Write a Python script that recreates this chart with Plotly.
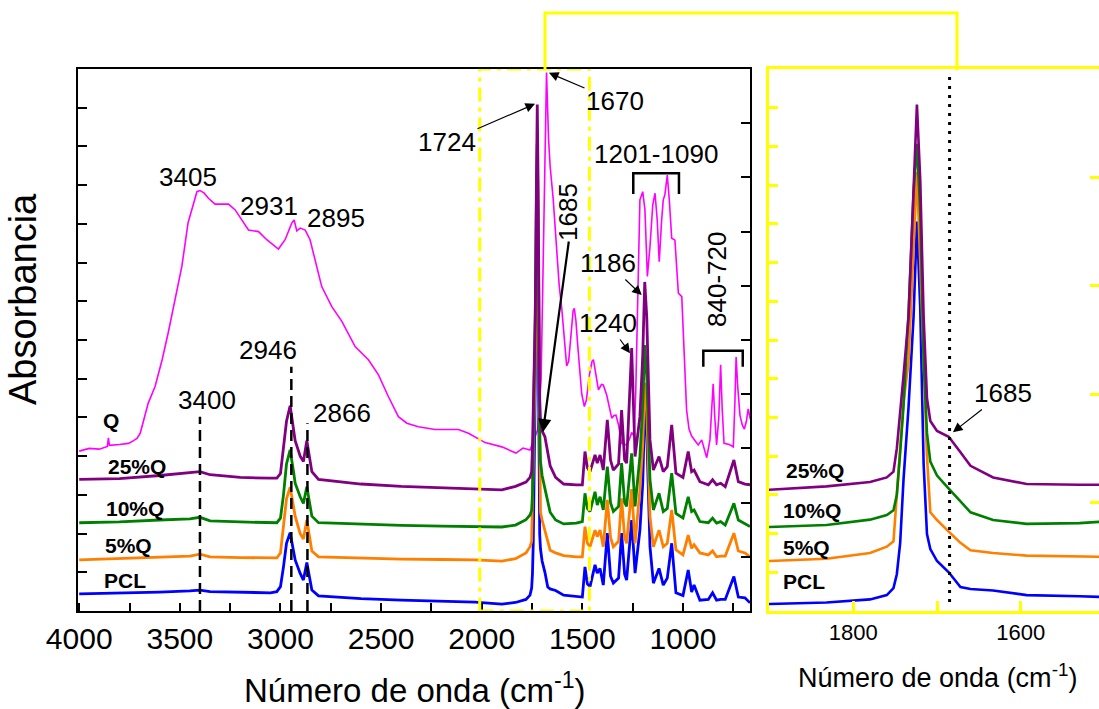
import plotly.graph_objects as go

# ---------------------------------------------------------------- data
# common wavenumber grid (cm-1) for the PCL based spectra
WN = [4000, 3800, 3600, 3450, 3400, 3350, 3200, 3050, 3018, 3000,
      2985, 2970, 2952, 2935, 2927, 2902, 2886, 2869, 2855, 2844,
      2811, 2600, 2400, 2200, 2033, 1900, 1832, 1780, 1760, 1752,
      1748, 1744, 1740, 1734, 1728, 1724, 1720, 1716, 1712, 1708,
      1700, 1686, 1672, 1660, 1633, 1593, 1530, 1500, 1487, 1475,
      1462, 1437, 1426, 1412, 1396, 1376, 1360, 1346, 1320, 1305,
      1290, 1280, 1255, 1238, 1214, 1200, 1190, 1180, 1164, 1147,
      1119, 1098, 1078, 1056, 1035, 1000, 974, 957, 945, 916,
      874, 853, 833, 813, 790, 747, 725, 692, 667]

ABS_PCL = [0.44, 0.46, 0.49, 0.52, 0.54, 0.50, 0.49, 0.47, 0.50, 0.63,
           1.14, 1.75, 2.02, 1.58, 1.32, 0.97, 0.80, 1.25, 0.80, 0.54,
           0.39, 0.32, 0.28, 0.25, 0.23, 0.18, 0.22, 0.30, 0.41, 0.59,
           0.95, 1.76, 3.40, 5.27, 7.60, 10.06, 7.80, 3.80, 1.99, 1.60,
           1.29, 1.00, 0.62, 0.57, 0.53, 0.41, 0.38, 0.36, 1.14, 0.70,
           0.63, 1.19, 0.98, 1.10, 0.67, 2.01, 0.90, 0.72, 0.85, 2.01,
           0.95, 0.80, 2.35, 0.98, 2.09, 3.30, 5.32, 4.60, 1.66, 0.72,
           1.10, 0.67, 0.85, 1.75, 0.47, 0.40, 1.06, 0.49, 0.67, 0.28,
           0.30, 0.47, 0.28, 0.30, 0.30, 0.89, 0.36, 0.34, 0.21]

ABS_5Q = [1.32, 1.35, 1.38, 1.42, 1.47, 1.40, 1.38, 1.37, 1.37, 1.50,
          2.20, 2.90, 3.20, 2.75, 2.45, 2.00, 1.86, 2.35, 1.90, 1.55,
          1.40, 1.36, 1.34, 1.33, 1.32, 1.29, 1.35, 1.50, 1.66, 1.80,
          2.93, 4.30, 5.40, 6.43, 9.20, 11.34, 9.00, 6.43, 4.00, 2.55,
          2.35, 2.05, 1.76, 1.57, 1.50, 1.43, 1.40, 1.40, 2.18, 1.75,
          1.66, 2.09, 1.92, 2.09, 1.66, 2.87, 1.90, 1.66, 1.80, 2.91,
          1.90, 1.75, 3.15, 1.75, 3.13, 4.30, 5.89, 5.20, 2.44, 1.66,
          2.09, 1.66, 1.75, 2.61, 1.58, 1.45, 1.96, 1.62, 1.71, 1.50,
          1.45, 1.55, 1.40, 1.42, 1.42, 2.01, 1.55, 1.50, 1.40]

ABS_10Q = [2.28, 2.30, 2.35, 2.38, 2.42, 2.33, 2.30, 2.28, 2.28, 2.40,
           3.00, 3.80, 4.16, 3.60, 3.30, 2.95, 2.78, 3.21, 2.80, 2.45,
           2.28, 2.24, 2.21, 2.19, 2.18, 2.17, 2.22, 2.36, 2.48, 2.60,
           3.00, 4.10, 5.30, 7.70, 10.80, 12.07, 10.30, 6.50, 4.60, 3.86,
           3.50, 3.16, 2.82, 2.55, 2.35, 2.25, 2.27, 2.31, 3.04, 2.65,
           2.57, 3.08, 2.74, 2.95, 2.61, 3.73, 2.80, 2.57, 2.70, 3.82,
           2.80, 2.70, 4.07, 2.70, 3.99, 5.30, 6.87, 6.10, 3.39, 2.61,
           3.04, 2.57, 2.65, 3.56, 2.52, 2.40, 2.95, 2.57, 2.61, 2.31,
           2.28, 2.40, 2.27, 2.31, 2.22, 2.78, 2.35, 2.25, 2.18]

ABS_25Q = [3.40, 3.42, 3.50, 3.57, 3.60, 3.52, 3.45, 3.43, 3.43, 3.55,
           4.20, 4.90, 5.30, 4.70, 4.40, 4.00, 3.86, 4.40, 3.95, 3.60,
           3.40, 3.28, 3.22, 3.18, 3.14, 3.13, 3.22, 3.33, 3.45, 3.60,
           4.20, 5.10, 6.08, 7.60, 11.11, 13.08, 11.11, 7.60, 5.50, 4.91,
           4.65, 4.50, 4.10, 3.75, 3.45, 3.28, 3.26, 3.26, 4.12, 3.70,
           3.60, 4.03, 3.82, 4.03, 3.64, 4.94, 3.90, 3.64, 3.80, 5.19,
           3.90, 3.82, 6.79, 3.99, 5.02, 6.60, 8.50, 7.60, 4.42, 3.64,
           3.99, 3.60, 3.73, 4.81, 3.56, 3.45, 4.12, 3.60, 3.64, 3.34,
           3.26, 3.39, 3.26, 3.30, 3.21, 3.90, 3.34, 3.28, 3.26]

WN_Q = [4000, 3950, 3900, 3860, 3855, 3850, 3800, 3755, 3730, 3713,
        3697, 3689, 3672, 3657, 3623, 3588, 3558, 3523, 3490, 3459,
        3440, 3415, 3400, 3380, 3358, 3325, 3258, 3225, 3159, 3109,
        3068, 3010, 2977, 2944, 2932, 2919, 2902, 2877, 2853, 2828,
        2795, 2745, 2695, 2629, 2563, 2513, 2464, 2414, 2372, 2315,
        2232, 2116, 2066, 1983, 1900, 1830, 1795, 1760, 1740, 1722,
        1705, 1690, 1678, 1668, 1660, 1645, 1635, 1627, 1615, 1602,
        1590, 1578, 1568, 1558, 1546, 1540, 1532, 1522, 1515, 1503,
        1490, 1480, 1465, 1452, 1445, 1435, 1420, 1405, 1396, 1379,
        1365, 1354, 1343, 1333, 1320, 1305, 1280, 1265, 1255, 1243,
        1235, 1227, 1214, 1200, 1189, 1177, 1164, 1150, 1139, 1128,
        1118, 1106, 1098, 1090, 1078, 1068, 1056, 1040, 1023, 1006,
        995, 982, 970, 957, 940, 924, 907, 882, 866, 858,
        850, 842, 833, 822, 813, 805, 796, 770, 750, 742,
        736, 728, 717, 705, 695, 685, 676, 665]

ABS_Q = [4.13, 4.20, 4.18, 4.25, 4.47, 4.28, 4.30, 4.33, 4.40, 4.46,
         4.59, 4.76, 5.11, 5.37, 5.80, 6.49, 7.18, 8.04, 8.90, 10.03,
         10.36, 10.83, 10.86, 10.80, 10.66, 10.51, 10.51, 10.36, 9.84, 9.80,
         9.59, 9.35, 9.59, 10.02, 10.10, 9.82, 9.89, 9.84, 9.59, 9.07,
         8.38, 7.86, 7.48, 6.83, 6.49, 6.10, 5.54, 5.02, 4.85, 4.76,
         4.69, 4.69, 4.59, 4.35, 4.24, 4.08, 4.21, 4.16, 4.42, 4.68,
         5.97, 10.60, 13.91, 12.20, 11.48, 10.65, 9.90, 9.10, 8.40, 7.80,
         7.00, 6.33, 6.45, 7.10, 7.75, 7.82, 7.50, 6.80, 6.30, 5.60,
         5.28, 5.45, 6.10, 6.45, 6.49, 6.20, 5.71, 5.85, 5.84, 5.58,
         5.20, 4.98, 5.05, 5.06, 4.80, 4.33, 4.29, 4.45, 4.61, 4.52,
         5.60, 7.69, 10.62, 10.83, 10.36, 8.64, 9.41, 10.50, 10.79, 10.10,
         9.02, 10.10, 10.62, 10.75, 11.26, 10.62, 9.63, 9.58, 8.21, 8.12,
         6.80, 5.19, 4.70, 4.52, 4.40, 4.29, 4.42, 3.96, 4.42, 5.30,
         5.87, 5.00, 4.29, 5.00, 6.36, 5.20, 4.33, 4.30, 4.24, 5.40,
         6.56, 5.80, 5.06, 4.80, 4.70, 4.90, 5.22, 4.95]

SERIES = ["PCL", "5%Q", "10%Q", "25%Q"]
COLORS = {"Q": "#FF00FF", "25%Q": "#800080", "10%Q": "#008000",
          "5%Q": "#FF7F00", "PCL": "#0000FF"}
VALUES = {"PCL": ABS_PCL, "5%Q": ABS_5Q, "10%Q": ABS_10Q, "25%Q": ABS_25Q}

MAIN_TICKS = [4000, 3500, 3000, 2500, 2000, 1500, 1000]
INSET_TICKS = [1800, 1600]

# ---------------------------------------------------------------- geometry
W, H = 1099, 709
FONT = "Liberation Sans, Arial, sans-serif"
MX0, MX1, PY_TOP, PY_BOT = 78, 750, 69, 611
IX0, IX1 = 769, 1099
XR = (4006, 667)
IXR = (1900.7, 1506.5)
YR = (0, 14)


def pxp(px):
    return px / W


def pyp(py):
    return 1 - py / H


def mx(wn):
    return MX0 + (XR[0] - wn) / (XR[0] - XR[1]) * (MX1 - MX0)


def ix(wn):
    return IX0 + (IXR[0] - wn) / (IXR[0] - IXR[1]) * (IX1 - IX0)


def my(v):
    return PY_BOT - (v - YR[0]) / (YR[1] - YR[0]) * (PY_BOT - PY_TOP)


fig = go.Figure()

# Q spectrum (main only)
fig.add_trace(go.Scatter(x=WN_Q, y=ABS_Q, mode="lines", xaxis="x", yaxis="y",
                         line=dict(color=COLORS["Q"], width=1.6),
                         showlegend=False, hoverinfo="skip"))
for s in SERIES:
    fig.add_trace(go.Scatter(x=WN, y=VALUES[s], mode="lines", xaxis="x", yaxis="y",
                             line=dict(color=COLORS[s], width=2.8),
                             showlegend=False, hoverinfo="skip"))
for s in SERIES:
    fig.add_trace(go.Scatter(x=WN, y=VALUES[s], mode="lines", xaxis="x2", yaxis="y2",
                             line=dict(color=COLORS[s], width=2.6),
                             showlegend=False, hoverinfo="skip"))
# carriers for the extra tick-only axes
fig.add_trace(go.Scatter(x=[], y=[], xaxis="x", yaxis="y3", showlegend=False))
fig.add_trace(go.Scatter(x=[], y=[], xaxis="x2", yaxis="y4", showlegend=False))

YEL = "#FFFF00"
ydom = [pyp(PY_BOT), pyp(PY_TOP)]

fig.update_layout(
    template="none",
    width=W, height=H, autosize=False,
    margin=dict(l=0, r=0, t=0, b=0, pad=0, autoexpand=False),
    paper_bgcolor="white", plot_bgcolor="rgba(0,0,0,0)",
    font=dict(family=FONT, color="black"),
    showlegend=False,
    xaxis=dict(domain=[pxp(MX0), pxp(MX1)], range=list(XR), anchor="y",
               automargin=False,
               showline=True, linecolor="black", linewidth=2, mirror=True,
               showgrid=False, zeroline=False,
               tickmode="array", tickvals=MAIN_TICKS,
               ticktext=[str(t) for t in MAIN_TICKS],
               ticks="inside", ticklen=8, tickwidth=1.5, tickcolor="black",
               minor=dict(dtick=250, tick0=0, ticks="inside", ticklen=8,
                          tickwidth=1.5, tickcolor="black", showgrid=False),
               tickfont=dict(size=30, family=FONT, color="black")),
    yaxis=dict(domain=ydom, range=list(YR), anchor="x", automargin=False,
               showline=True, linecolor="black", linewidth=2, mirror=True,
               showgrid=False, zeroline=False, showticklabels=False,
               ticks="inside", dtick=1, tick0=0, ticklen=9, tickwidth=1.5,
               tickcolor="black"),
    yaxis3=dict(overlaying="y", side="right", anchor="x", range=list(YR),
                automargin=False,
                showline=False, showgrid=False, zeroline=False,
                showticklabels=False, ticks="inside", dtick=1.4, tick0=0,
                ticklen=9, tickwidth=1.5, tickcolor="black"),
    xaxis2=dict(domain=[pxp(IX0), 1.0], range=list(IXR), anchor="y2",
                automargin=False,
                showline=True, linecolor=YEL, linewidth=3, mirror=True,
                showgrid=False, zeroline=False,
                tickmode="array", tickvals=INSET_TICKS,
                ticktext=[str(t) for t in INSET_TICKS],
                ticks="inside", ticklen=10, tickwidth=3, tickcolor=YEL,
                minor=dict(dtick=100, tick0=0, ticks="inside", ticklen=10,
                           tickwidth=3, tickcolor=YEL, showgrid=False),
                tickfont=dict(size=22, family=FONT, color="black")),
    yaxis2=dict(domain=ydom, range=list(YR), anchor="x2", automargin=False,
                showline=True, linecolor=YEL, linewidth=3, mirror=True,
                showgrid=False, zeroline=False, showticklabels=False,
                ticks="inside", dtick=1, tick0=0, ticklen=9, tickwidth=3,
                tickcolor=YEL),
    yaxis4=dict(overlaying="y2", side="right", anchor="x2", range=list(YR),
                automargin=False,
                showline=False, showgrid=False, zeroline=False,
                showticklabels=False, ticks="inside", dtick=2.8, tick0=0,
                ticklen=9, tickwidth=3, tickcolor=YEL),
)

# ---------------------------------------------------------------- shapes
shapes = []
# dashed guide lines at assigned bands
for wn, top in [(3400, 5.02), (2946, 6.31), (2866, 4.85)]:
    shapes.append(dict(type="line", xref="x", yref="y", x0=wn, x1=wn, y0=0, y1=top,
                       line=dict(color="black", width=2.5, dash="11px,6px"), layer="above"))
# dotted line in inset at 1685
shapes.append(dict(type="line", xref="x2", yref="y2", x0=1685, x1=1685, y0=0.23, y1=13.95,
                   line=dict(color="black", width=3, dash="3px,6px"), layer="above"))
# zoom box (dash-dot yellow)
shapes.append(dict(type="rect", xref="x", yref="y", x0=2010, x1=1465, y0=0, y1=14,
                   line=dict(color=YEL, width=3, dash="14px,6px,4px,6px"), layer="above"))
# connector from zoom box to inset
shapes.append(dict(type="path", xref="paper", yref="paper",
                   path=f"M {pxp(545)},{pyp(70)} L {pxp(545)},{pyp(13)} "
                        f"L {pxp(957)},{pyp(13)} L {pxp(957)},{pyp(70)}",
                   line=dict(color=YEL, width=3)))
# brackets
shapes.append(dict(type="path", xref="x", yref="y",
                   path="M 1247,10.77 L 1247,11.31 L 1020,11.31 L 1020,10.77",
                   line=dict(color="black", width=2.5)))
shapes.append(dict(type="path", xref="x", yref="y",
                   path="M 899,6.31 L 899,6.72 L 703,6.72 L 703,6.31",
                   line=dict(color="black", width=2.5)))
fig.update_layout(shapes=shapes)

# ---------------------------------------------------------------- annotations
ann = []


def txt(t, cx, cy, size=26, bold=False, angle=0):
    ann.append(dict(xref="paper", yref="paper", x=pxp(cx), y=pyp(cy), text=t,
                    showarrow=False, xanchor="center", yanchor="middle",
                    textangle=angle,
                    font=dict(family=FONT, size=size, color="black",
                              weight="bold" if bold else "normal")))


def arrow(t, hx, hy, cx, cy, inset=False, size=26, width=1.2, asize=1.6):
    px = ix(hx) if inset else mx(hx)
    py = my(hy)
    ann.append(dict(xref="x2" if inset else "x", yref="y2" if inset else "y",
                    x=hx, y=hy, ax=cx - px, ay=cy - py, text=t,
                    showarrow=True, arrowhead=2, arrowsize=asize, arrowwidth=width,
                    arrowcolor="black", xanchor="center", yanchor="middle",
                    font=dict(family=FONT, size=size, color="black")))


txt("3405", 188, 177)
txt("2931", 269, 206)
txt("2895", 336, 218)
txt("2946", 268, 350)
txt("3400", 207, 400)
txt("2866", 342, 413)
txt("1201-1090", 656, 154)
txt("840-720", 717, 280, angle=-90)
txt("1685", 568, 212, angle=-90)
arrow("1724", 1735, 13.10, 447, 142)
arrow("1670", 1666, 13.90, 615, 101)
arrow("1186", 1205, 8.16, 608, 263)
arrow("1240", 1263, 6.66, 608, 323)
arrow("", 1696, 4.62, 569, 240, width=2.2, asize=1.2)
arrow("1685", 1681, 4.62, 1003, 393, inset=True)

# series labels
for t, cx, cy in [("Q", 111, 420), ("25%Q", 137, 466), ("10%Q", 135, 508),
                  ("5%Q", 128, 545), ("PCL", 125, 580)]:
    txt(t, cx, cy, size=21, bold=True)
for t, cx, cy in [("25%Q", 815, 470), ("10%Q", 812, 510), ("5%Q", 806, 547),
                  ("PCL", 804, 581)]:
    txt(t, cx, cy, size=21, bold=True)

# axis titles
txt("Número de onda (cm<sup>-1</sup>)", 415, 688, size=33)
txt("Número de onda (cm<sup>-1</sup>)", 937, 676, size=27)
txt("Absorbancia", 23, 299, size=38, angle=-90)

fig.update_layout(annotations=ann)

fig.write_html("out.html",
               config={"displayModeBar": False, "responsive": False},
               post_script="document.body.style.margin='0';"
                           "document.body.style.overflow='hidden';")
